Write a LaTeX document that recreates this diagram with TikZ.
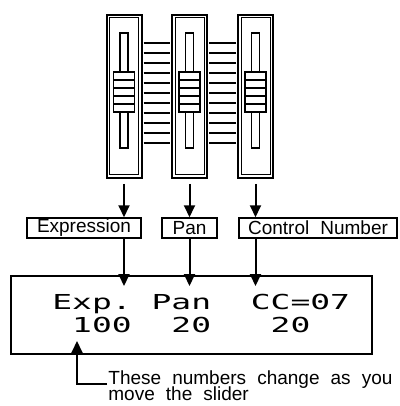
\documentclass[tikz,border=0pt]{standalone}
\usepackage{fontspec}
\setmainfont{Liberation Sans}[WordSpace=2.1]
\newfontfamily\lcdfont{DejaVu Sans Mono}[FakeStretch=1.6]
\usetikzlibrary{arrows.meta,positioning}

\tikzset{
  slider/.style={draw, line width=1pt, minimum width=17.5pt, minimum height=81.5pt, inner sep=0pt},
  rung/.style={line width=0.6pt, shorten <=0.5pt, shorten >=0.5pt},
  tag/.style={draw, line width=0.75pt, minimum height=10pt, inner sep=0pt, font=\fontsize{9.5}{10}\selectfont},
  lcd/.style={font=\lcdfont\fontsize{10.3}{12}\selectfont, inner sep=0pt, anchor=base west},
  note/.style={font=\fontsize{9.5}{10}\selectfont, inner sep=0pt, anchor=base west},
  flow/.style={line width=1pt, -{Triangle[width=5.5pt,length=6pt]}},
}

\begin{document}
\begin{tikzpicture}[x=0.5pt,y=-0.5pt]
    \useasboundingbox (0,0) rectangle (400,406);
    % the three sliders
    \foreach \c/\name in {124/sl1,189.5/sl2,255.5/sl3}{
        \node (\name) [slider] at (\c,96.5) {};
        \draw[line width=0.5pt] (\c-14.5,18) rectangle (\c+14.5,175);
        \draw[line width=0.75pt] (\c-4,33) rectangle (\c+4,148);
        \draw[line width=0.75pt, fill=white] (\c-10.5,72) rectangle (\c+10.5,112);
        \foreach \y in {80,88,96,104} \draw[line width=0.75pt] (\c-10.5,\y) -- (\c+10.5,\y);
    }
    \foreach \y in {43,53,...,143}{
        \draw[rung] (sl1.east |- 0,\y) -- (sl2.west |- 0,\y);
        \draw[rung] (sl2.east |- 0,\y) -- (sl3.west |- 0,\y);
    }

    % parameter names
    \node (expr) [tag, minimum width=57pt] at (84,228) {Expression};
    \node (pan) [tag, minimum width=27.5pt] at (189.5,228) {Pan};
    \node (ccnum) [tag, minimum width=79pt] at (318,228) {Control Number};

    % display
    \node (disp) [draw, line width=1pt, minimum width=180.5pt, minimum height=39pt] at (191.5,315) {};
    \node (lcdtop) [lcd] at (52,309) {Exp.~Pan~~CC=07};
    \node (lcdbot) [lcd] at (52,332) {~100~~20~~~20};

    \foreach \s/\t in {sl1/expr,sl2/pan,sl3/ccnum}{
        \draw[flow, shorten <=2.5pt] (\s.south) -- (\s.south |- \t.north);
        \draw[flow] (\s.south |- \t.south) -- ([yshift=-5.5pt]\s.south |- disp.north);
    }

    % note
    \node (note1) [note] at (108,384) {These numbers change as you};
    \node (note2) [note] at (108,400) {move the slider};
    \coordinate (numtip) at (77,341);
    \draw[flow, shorten <=0.5pt] (note1.base west) -| (numtip);
\end{tikzpicture}
\end{document}
